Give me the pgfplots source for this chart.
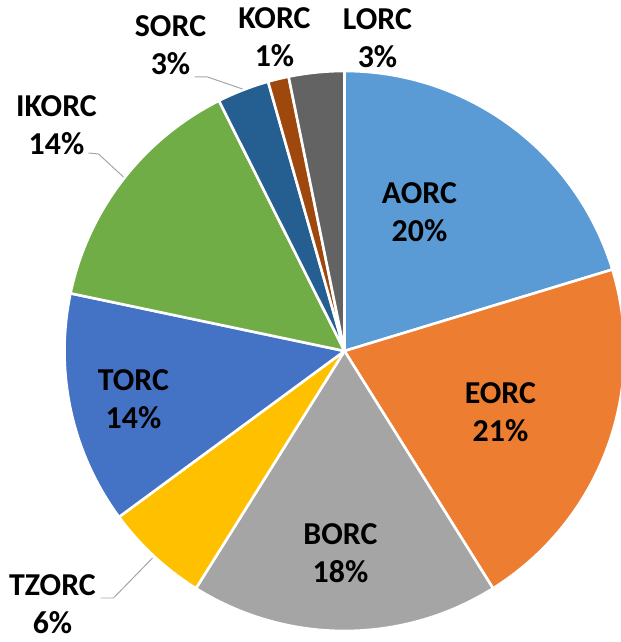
\documentclass[border=0pt]{standalone}
\usepackage{pgfplots}
\pgfplotsset{compat=1.18}
\usepackage{fontspec}
\setmainfont{Carlito}
\definecolor{cA}{HTML}{5B9BD5}
\definecolor{cE}{HTML}{ED7D31}
\definecolor{cB}{HTML}{A5A5A5}
\definecolor{cTZ}{HTML}{FFC000}
\definecolor{cT}{HTML}{4472C4}
\definecolor{cIK}{HTML}{70AD47}
\definecolor{cS}{HTML}{255E91}
\definecolor{cK}{HTML}{9E480E}
\definecolor{cL}{HTML}{636363}
\definecolor{lead}{HTML}{A6A6A6}
% shares (percent): AORC 20.3, EORC 20.8, BORC 17.8, TZORC 6.0, TORC 13.4, IKORC 14.3, SORC 3.0, KORC 1.2, LORC 3.2
\newcommand\slice[3]{%
  \pgfmathsetmacro\aS{90-3.6*#2}%
  \pgfmathsetmacro\aE{90-3.6*#1}%
  \addplot[fill=#3, draw=white, line width=2.6pt, line join=round, domain=\aS:\aE, samples=90, variable=\t]
    ({280*cos(\t)},{280*sin(\t)}) -- (axis cs:0,0) -- cycle;
}
\begin{document}
\begin{tikzpicture}
\begin{axis}[x=1bp, y=1bp, xmin=-344.5, xmax=276.5, ymin=-291, ymax=351,
  hide axis, clip=false,
  nodes={font=\fontsize{32}{38}\selectfont\bfseries, align=center, text=black}]
\slice{0}{20.3}{cA}
\slice{20.3}{41.1}{cE}
\slice{41.1}{58.9}{cB}
\slice{58.9}{64.9}{cTZ}
\slice{64.9}{78.3}{cT}
\slice{78.3}{92.6}{cIK}
\slice{92.6}{95.6}{cS}
\slice{95.6}{96.8}{cK}
\slice{96.8}{100}{cL}
\addplot[lead, line width=1pt, no marks] coordinates {(-150,274) (-137,274) (-102,262)};
\addplot[lead, line width=1pt, no marks] coordinates {(-256,198) (-246,197) (-221,174)};
\addplot[lead, line width=1pt, no marks] coordinates {(-244,-247) (-231,-247) (-192,-207)};
\node at (axis cs:75,139) {AORC\\20\%};
\node at (axis cs:156,-61) {EORC\\21\%};
\node at (axis cs:-4,-202) {BORC\\18\%};
\node at (axis cs:-211,-48) {TORC\\14\%};
\node at (axis cs:-288,226) {IKORC\\14\%};
\node at (axis cs:-174,306) {SORC\\3\%};
\node at (axis cs:-70,314) {KORC\\1\%};
\node at (axis cs:33,313) {LORC\\3\%};
\node at (axis cs:-292,-253) {TZORC\\6\%};
\end{axis}
\pgfresetboundingbox
\useasboundingbox (current axis.south west) rectangle (current axis.north east);
\end{tikzpicture}
\end{document}
